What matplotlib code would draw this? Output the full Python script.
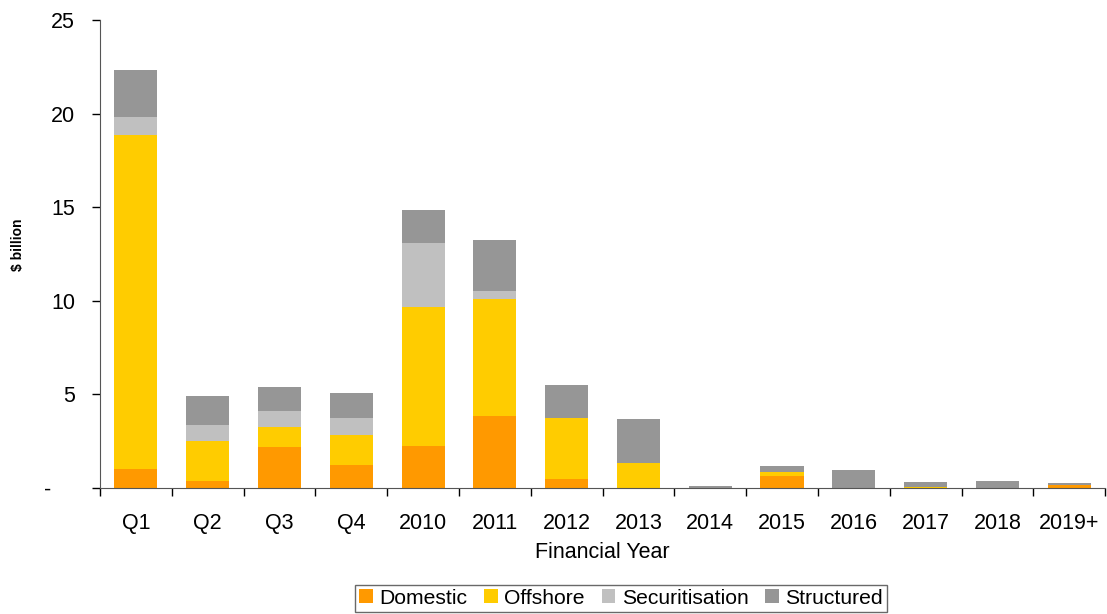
import matplotlib.pyplot as plt
import numpy as np

plt.rcParams['font.family'] = ['Liberation Sans', 'DejaVu Sans']

categories = ['Q1', 'Q2', 'Q3', 'Q4', '2010', '2011', '2012', '2013',
              '2014', '2015', '2016', '2017', '2018', '2019+']
domestic = [1.00, 0.35, 2.17, 1.21, 2.22, 3.83, 0.46, 0.00, 0.00, 0.61, 0.00, 0.00, 0.00, 0.13]
offshore = [17.87, 2.14, 1.07, 1.60, 7.45, 6.23, 3.26, 1.31, 0.00, 0.22, 0.00, 0.02, 0.00, 0.00]
securitisation = [0.93, 0.86, 0.86, 0.91, 3.43, 0.46, 0.00, 0.00, 0.00, 0.00, 0.00, 0.00, 0.00, 0.00]
structured = [2.52, 1.55, 1.28, 1.34, 1.76, 2.74, 1.77, 2.36, 0.07, 0.32, 0.94, 0.28, 0.35, 0.11]

series = [('Domestic', domestic, '#FF9900'),
          ('Offshore', offshore, '#FFCC00'),
          ('Securitisation', securitisation, '#C0C0C0'),
          ('Structured', structured, '#969696')]

fig = plt.figure(figsize=(11.07, 6.14), dpi=100)
ax = fig.add_axes([0.0903, 0.206, 0.908, 0.761])

x = np.arange(len(categories))
bottom = np.zeros(len(categories))
for name, vals, col in series:
    ax.bar(x, vals, 0.6, bottom=bottom, color=col, label=name, linewidth=0)
    bottom += np.array(vals)

ax.set_xlim(-0.5, len(categories) - 0.5)
ax.set_ylim(0, 25)
ax.set_yticks([0, 5, 10, 15, 20, 25])
ax.set_yticklabels(['-    ', '5', '10', '15', '20', '25'])

# category labels centred, ticks on the boundaries
ax.set_xticks(x)
ax.set_xticklabels(categories)
ax.tick_params(axis='x', which='major', length=0, labelsize=15.5, pad=18)
ax.set_xticks(np.arange(-0.5, len(categories)), minor=True)
ax.tick_params(axis='x', which='minor', length=6, width=1, direction='out')
ax.tick_params(axis='y', length=6, width=1, labelsize=15.5, pad=12)

for s in ['top', 'right']:
    ax.spines[s].set_visible(False)
for s in ['left', 'bottom']:
    ax.spines[s].set_color('#555555')

ax.set_xlabel('Financial Year', fontsize=15.5, labelpad=6)
ax.set_ylabel('$ billion', fontsize=10, fontweight='bold')
ax.yaxis.set_label_coords(-0.075, 0.52)

leg = fig.legend(loc='lower center', bbox_to_anchor=(621 / 1107, -0.014), ncol=4,
                 fontsize=15.2, frameon=True, fancybox=False, handlelength=0.65,
                 handleheight=0.65, handletextpad=0.3, columnspacing=0.8,
                 borderpad=0.2)
leg.get_frame().set_edgecolor('#444444')
leg.get_frame().set_linewidth(1)

fig.savefig('out.png', dpi=100)
